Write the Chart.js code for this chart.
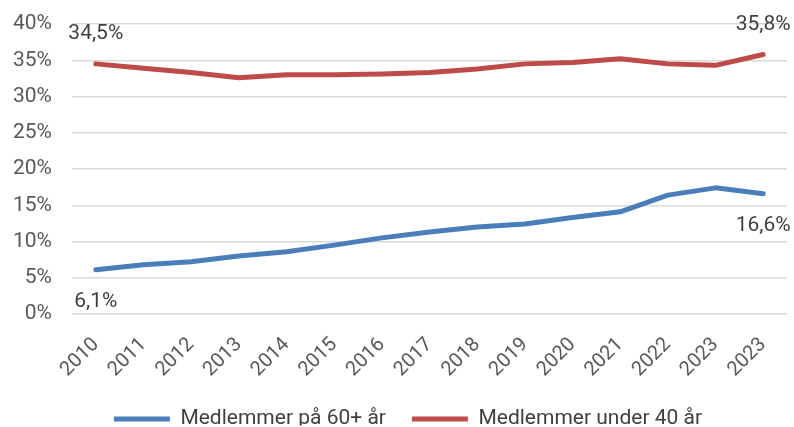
<!DOCTYPE html>
<html>
<head>
<meta charset="utf-8">
<script src="https://cdn.jsdelivr.net/npm/chart.js@4/dist/chart.umd.min.js"></script>
<style>
html,body{margin:0;padding:0;background:#fff;}
#wrap{width:794px;height:427px;}
</style>
</head>
<body>
<div id="wrap"><canvas id="c" width="794" height="427"></canvas></div>
<script>
const categories = ['2010','2011','2012','2013','2014','2015','2016','2017','2018','2019','2020','2021','2022','2023','2023'];
const over60 = [6.1, 6.8, 7.2, 8.0, 8.6, 9.5, 10.5, 11.3, 12.0, 12.4, 13.3, 14.1, 16.4, 17.4, 16.6];
const under40 = [34.5, 33.9, 33.3, 32.6, 33.0, 33.0, 33.1, 33.3, 33.8, 34.5, 34.7, 35.2, 34.5, 34.3, 35.8];
const seriesNames = ['Medlemmer på 60+ år', 'Medlemmer under 40 år'];
const yTicks = [0, 5, 10, 15, 20, 25, 30, 35, 40];

const LEGEND_PAD = 26;
const fmt = v => v.toFixed(1).replace('.', ',') + '%';

const endLabels = {
  id: 'endLabels',
  afterDatasetsDraw(chart) {
    const ctx = chart.ctx;
    ctx.save();
    ctx.font = '21px Roboto';
    ctx.fillStyle = '#404040';
    ctx.textAlign = 'center';
    ctx.textBaseline = 'middle';
    chart.data.datasets.forEach((ds, di) => {
      const meta = chart.getDatasetMeta(di);
      const last = ds.data.length - 1;
      [0, last].forEach(i => {
        const el = meta.data[i];
        const dy = di === 0 ? 32 : -30;
        ctx.fillText(fmt(ds.data[i]), el.x, el.y + dy);
      });
    });
    ctx.restore();
  }
};

const legendFix = {
  id: 'legendFix',
  beforeLayout(chart) {
    const lg = chart.legend;
    if (lg && !lg._patched) {
      const f = lg.fit.bind(lg);
      lg.fit = function () { f(); this.height = 43; };
      lg._patched = true;
    }
  },
  afterLayout(chart) {
    const lg = chart.legend;
    if (!lg) return;
    lg.left += 8; lg.right += 8;
    lg.top = 419 - LEGEND_PAD - 10.5;
    lg.bottom = lg.top + lg.height;
  }
};

new Chart(document.getElementById('c'), {
  type: 'line',
  data: {
    labels: categories,
    datasets: [
      { label: seriesNames[0], data: over60, borderColor: '#4a7ebb', backgroundColor: '#4a7ebb', borderWidth: 5, pointRadius: 0, tension: 0, borderCapStyle: 'round', borderJoinStyle: 'round' },
      { label: seriesNames[1], data: under40, borderColor: '#be4b48', backgroundColor: '#be4b48', borderWidth: 5, pointRadius: 0, tension: 0, borderCapStyle: 'round', borderJoinStyle: 'round' }
    ]
  },
  options: {
    responsive: false,
    animation: false,
    devicePixelRatio: 1,
    layout: { padding: { left: 13, right: 7, top: 24, bottom: 0 } },
    plugins: {
      tooltip: { enabled: false },
      legend: {
        position: 'bottom',
        labels: {
          usePointStyle: true,
          pointStyle: 'line',
          pointStyleWidth: 56,
          boxHeight: 21,
          color: '#404040',
          font: { family: 'Roboto', size: 21 },
          padding: LEGEND_PAD
        }
      }
    },
    scales: {
      x: {
        offset: true,
        grid: { display: false },
        border: { display: false },
        afterFit: axis => { axis.height = 70; },
        ticks: { color: '#595959', font: { family: 'Roboto', size: 20 }, minRotation: 45, maxRotation: 45, autoSkip: false, padding: 11 }
      },
      y: {
        min: 0, max: 40,
        afterBuildTicks: axis => { axis.ticks = yTicks.map(v => ({ value: v })); },
        afterFit: axis => { axis.width = 59; axis.paddingTop = 0; axis.paddingBottom = 0; },
        grid: { color: '#d9d9d9', lineWidth: 1.5, drawTicks: false },
        border: { display: false },
        ticks: { color: '#595959', font: { family: 'Roboto', size: 21 }, padding: 20, callback: v => v + '%' }
      }
    }
  },
  plugins: [endLabels, legendFix]
});
</script>
</body>
</html>
